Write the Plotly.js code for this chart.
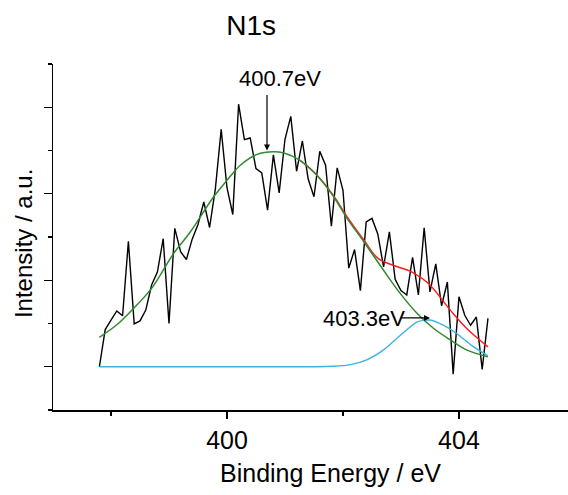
<!DOCTYPE html>
<html>
<head>
<meta charset="utf-8">
<script src="https://cdn.plot.ly/plotly-3.0.1.min.js"></script>
<style>
html,body{margin:0;padding:0;background:#fff;}
#chart{width:568px;height:495px;}
</style>
</head>
<body>
<div id="chart"></div>
<script>
// Measured N1s spectrum (binding energy, intensity a.u.)
const rawEnergy = [397.8,397.9,398.0,398.1,398.2,398.3,398.4,398.5,398.6,398.7,
  398.8,398.9,399.0,399.1,399.2,399.3,399.4,399.5,399.6,399.7,
  399.8,399.9,400.0,400.1,400.2,400.3,400.4,400.5,400.6,400.7,
  400.8,400.9,401.0,401.1,401.2,401.3,401.4,401.5,401.6,401.7,
  401.8,401.9,402.0,402.1,402.2,402.3,402.4,402.5,402.6,402.7,
  402.8,402.9,403.0,403.1,403.2,403.3,403.4,403.5,403.6,403.7,
  403.8,403.9,404.0,404.1,404.2,404.3,404.4,404.5];
const rawIntensity = [1.00,1.86,2.08,2.29,2.18,3.90,1.99,2.06,2.31,2.89,
  3.19,3.96,2.00,4.20,3.66,3.48,3.95,4.29,4.81,4.22,
  5.12,6.49,5.14,4.52,7.07,6.25,6.29,5.58,5.48,4.62,
  5.90,5.02,6.26,6.79,5.52,6.22,5.34,4.93,5.98,5.66,
  4.25,5.60,5.08,3.28,3.71,2.76,4.35,4.43,4.07,3.31,
  4.12,3.02,2.76,2.66,3.53,2.66,4.21,2.73,3.38,2.41,
  2.96,0.83,2.62,2.19,1.96,2.15,0.94,2.12];

// Fitted component at 400.7 eV (green)
const peak1Energy = [397.8,398.1,398.39,398.71,399.08,399.37,399.77,400.0,400.23,400.52,
  400.8,400.98,401.26,401.55,401.84,402.07,402.36,402.7,402.99,403.28,
  403.56,403.85,404.13,404.5];
const peak1Intensity = [1.68,1.97,2.35,2.83,3.62,4.12,4.93,5.31,5.66,5.91,
  5.97,5.94,5.77,5.43,4.93,4.43,3.89,3.23,2.69,2.23,
  1.89,1.62,1.39,1.23];

// Fitted component at 403.3 eV (cyan)
const peak2Energy = [397.8,399.5,401.0,401.5,401.84,402.13,402.41,402.7,402.99,403.28,
  403.5,403.73,403.96,404.21,404.5];
const peak2Intensity = [1.0,1.0,1.0,1.0,1.01,1.05,1.16,1.39,1.73,2.04,
  2.08,1.96,1.77,1.50,1.25];

// Envelope (red)
const envEnergy = [401.26,401.55,401.84,402.07,402.36,402.61,402.9,403.19,403.47,403.85,
  404.13,404.5];
const envIntensity = [5.77,5.43,4.95,4.47,3.93,3.50,3.33,3.19,2.93,2.31,
  1.89,1.46];

const FONT = 'Liberation Sans, Arial, Helvetica, sans-serif';

const traces = [
  {x: rawEnergy, y: rawIntensity, type: 'scatter', mode: 'lines',
   line: {color: '#000000', width: 1.4}},
  {x: envEnergy, y: envIntensity, type: 'scatter', mode: 'lines',
   line: {color: '#ff1a1a', width: 1.4, shape: 'spline', smoothing: 1}},
  {x: peak1Energy, y: peak1Intensity, type: 'scatter', mode: 'lines',
   line: {color: '#2e8b2e', width: 1.5, shape: 'spline', smoothing: 1}},
  {x: peak2Energy, y: peak2Intensity, type: 'scatter', mode: 'lines',
   line: {color: '#3ab4d8', width: 1.4, shape: 'spline', smoothing: 0.6}}
];

const layout = {
  width: 568, height: 495,
  margin: {l: 53, r: 0, t: 64, b: 85},
  paper_bgcolor: '#ffffff', plot_bgcolor: '#ffffff',
  showlegend: false,
  font: {family: FONT, color: '#000000'},
  title: {text: 'N1s', font: {family: FONT, size: 28, color: '#000'},
          xref: 'container', x: 0.442, xanchor: 'center',
          yref: 'container', y: 0.95, yanchor: 'middle'},
  xaxis: {
    range: [397, 405.88], showgrid: false, zeroline: false,
    showline: true, linecolor: '#000', linewidth: 1.5,
    ticks: 'outside', tick0: 400, dtick: 4, ticklen: 7, tickwidth: 1.3, tickcolor: '#000',
    tickfont: {family: FONT, size: 25, color: '#000'},
    minor: {dtick: 2, ticks: 'outside', ticklen: 4, tickwidth: 1.3, tickcolor: '#000'}
  },
  yaxis: {
    range: [0, 8], showgrid: false, zeroline: false,
    showline: true, linecolor: '#000', linewidth: 1.5,
    ticks: 'outside', tick0: 1, dtick: 2, ticklen: 8, tickwidth: 1.3, tickcolor: '#000',
    showticklabels: false,
    minor: {dtick: 1, ticks: 'outside', ticklen: 3.5, tickwidth: 1.3, tickcolor: '#000'}
  },
  annotations: [
    {text: 'Binding Energy / eV', xref: 'paper', yref: 'paper', x: 0.538, y: -0.183,
     xanchor: 'center', yanchor: 'middle', showarrow: false,
     font: {family: FONT, size: 25, color: '#000'}},
    {text: 'Intensity / a.u.', xref: 'paper', yref: 'paper', x: -0.056, y: 0.48,
     xanchor: 'center', yanchor: 'middle', showarrow: false, textangle: -90,
     font: {family: FONT, size: 24, color: '#000'}},
    {text: '400.7eV', xref: 'x', yref: 'y', x: 400.92, y: 7.66,
     xanchor: 'center', yanchor: 'middle', showarrow: false,
     font: {family: FONT, size: 22, color: '#000'}},
    {text: '', xref: 'x', yref: 'y', x: 400.69, y: 6.0, ax: 0, ay: -57,
     showarrow: true, arrowhead: 2, arrowsize: 1, arrowwidth: 1.2, arrowcolor: '#000'},
    {text: '403.3eV', xref: 'x', yref: 'y', x: 402.37, y: 2.12,
     xanchor: 'center', yanchor: 'middle', showarrow: false,
     font: {family: FONT, size: 22, color: '#000'}},
    {text: '', xref: 'x', yref: 'y', x: 403.5, y: 2.13, ax: -31, ay: 0,
     showarrow: true, arrowhead: 2, arrowsize: 1, arrowwidth: 1.2, arrowcolor: '#000'}
  ]
};

Plotly.newPlot('chart', traces, layout, {displayModeBar: false, staticPlot: true});
</script>
</body>
</html>
